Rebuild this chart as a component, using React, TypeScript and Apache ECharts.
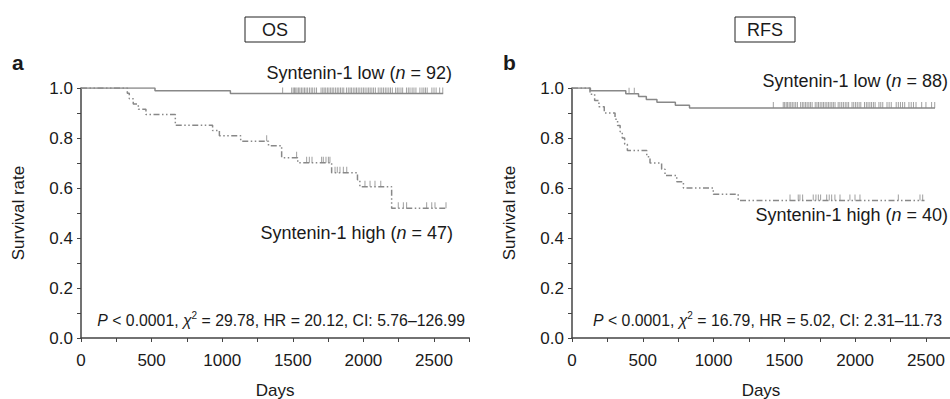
import React, { useEffect, useRef } from "react";
import * as echarts from "echarts";

// ---- axes ----
const xTickLabels = [0, 500, 1000, 1500, 2000, 2500];
const xTickMarks = [0, 250, 500, 750, 1000, 1250, 1500, 1750, 2000, 2250, 2500, 2750];
const yTickLabels = [0, 0.2, 0.4, 0.6, 0.8, 1.0];
const yTickMarks = [0, 0.1, 0.2, 0.3, 0.4, 0.5, 0.6, 0.7, 0.8, 0.9, 1.0];

// ---- OS (panel a) ----
const osLowDays = [0, 524, 1058, 2565];
const osLowSurv = [1, 0.989, 0.978, 0.978];
const osLowCensored = [
  1428, 1492, 1503, 1512, 1521, 1530, 1541, 1550, 1561, 1572, 1583, 1594, 1605, 1618, 1630, 1641, 1655, 1668,
  1700, 1712, 1722, 1733, 1745, 1756, 1768, 1779, 1790, 1803, 1815, 1826, 1838, 1850, 1861,
  1880, 1893, 1905, 1915, 1928, 1940, 1951, 1963, 1975, 1988, 2000, 2012, 2025, 2037, 2048, 2060, 2072, 2085,
  2105, 2118, 2130, 2142, 2155, 2167, 2180, 2192, 2205,
  2228, 2240, 2252, 2266, 2278,
  2305, 2318, 2330, 2345, 2358, 2372,
  2400, 2415, 2428, 2440, 2452,
  2485, 2500, 2515, 2540, 2562,
];
const osHighDays = [0, 328, 342, 370, 406, 460, 668, 932, 980, 1131, 1328, 1421, 1535, 1775, 1958, 1975, 2200, 2590];
const osHighSurv = [1, 0.979, 0.957, 0.936, 0.915, 0.894, 0.851, 0.83, 0.809, 0.787, 0.769, 0.721, 0.701, 0.661, 0.633, 0.605, 0.519, 0.519];
const osHighCensored = [
  1315, 1527, 1598, 1617, 1636, 1704, 1716, 1735, 1752, 1763, 1799, 1815, 1834, 1858, 1882,
  2011, 2047, 2082, 2123, 2247, 2283, 2306, 2448, 2484, 2507, 2585,
];

// ---- RFS (panel b) ----
const rfsLowDays = [0, 130, 380, 470, 525, 600, 730, 830, 2564];
const rfsLowSurv = [1, 0.989, 0.977, 0.966, 0.954, 0.943, 0.931, 0.92, 0.92];
const rfsLowCensored = [
  403, 440, 1422,
  1492, 1502, 1513, 1523, 1534, 1545, 1556, 1568, 1580, 1592,
  1615, 1627, 1638, 1650, 1661, 1673, 1684, 1696,
  1718, 1730, 1741, 1753, 1765, 1776, 1788, 1800, 1811, 1823, 1835, 1846, 1858,
  1880, 1892, 1905, 1917, 1930, 1942, 1954,
  1978, 1990, 2003, 2015, 2028, 2040,
  2066, 2079, 2091, 2104, 2116, 2129, 2141,
  2168, 2181, 2195,
  2225, 2240, 2255,
  2290, 2305, 2320, 2335, 2350,
  2380, 2396, 2412, 2430,
  2470, 2500, 2540, 2562,
];
const rfsHighDays = [0, 127, 160, 190, 228, 304, 322, 340, 355, 372, 391, 528, 551, 633, 657, 740, 787, 998, 1174, 2490];
const rfsHighSurv = [1, 0.975, 0.95, 0.925, 0.9, 0.875, 0.85, 0.825, 0.8, 0.775, 0.75, 0.725, 0.7, 0.675, 0.65, 0.625, 0.6, 0.575, 0.55, 0.55];
const rfsHighCensored = [
  1540, 1598, 1610, 1629, 1704, 1723, 1740, 1756, 1799, 1817, 1834, 1857, 1893, 1963, 1999, 2034, 2305, 2458, 2477,
];

// ---- texts ----
const panelTitles = ["OS", "RFS"];
const panelLetters = ["a", "b"];
const lowLabels = ["Syntenin-1 low ({i|n} = 92)", "Syntenin-1 low ({i|n} = 88)"];
const highLabels = ["Syntenin-1 high ({i|n} = 47)", "Syntenin-1 high ({i|n} = 40)"];
const statLabels = [
  "{i|P} < 0.0001, {i|χ}{sup|2} = 29.78, HR = 20.12, CI: 5.76–126.99",
  "{i|P} < 0.0001, {i|χ}{sup|2} = 16.79, HR = 5.02, CI: 2.31–11.73",
];

const CURVE = "#888888";
const AXIS = "#444444";
const TEXT = "#1a1a1a";
const FONT = "Arial, 'Liberation Sans', Helvetica, sans-serif";
const DASH = [6, 2.5, 1.5, 2.5, 1.5, 2.5];

function levelAt(days: number[], surv: number[], t: number) {
  let v = surv[0];
  for (let i = 0; i < days.length; i++) if (days[i] <= t) v = surv[i];
  return v;
}

function curveSeries(days: number[], surv: number[], censored: number[], idx: number, dashed: boolean) {
  return [
    {
      type: "line",
      xAxisIndex: idx,
      yAxisIndex: idx,
      step: "end",
      showSymbol: false,
      symbol: "none",
      data: days.map((d, i) => [d, surv[i]]),
      lineStyle: { color: CURVE, width: 1.5, type: dashed ? DASH : "solid" },
      silent: true,
    },
    {
      type: "scatter",
      xAxisIndex: idx,
      yAxisIndex: idx,
      symbol: "rect",
      symbolSize: [1, 6],
      symbolOffset: [0, -3],
      itemStyle: { color: CURVE },
      data: censored.map((t) => [t, levelAt(days, surv, t)]),
      silent: true,
    },
  ];
}

function xAxisCfg(idx: number, max: number) {
  return {
    type: "value",
    gridIndex: idx,
    min: 0,
    max,
    axisLine: { show: true, onZero: false, lineStyle: { color: AXIS, width: 1.5 } },
    axisTick: { show: true, customValues: xTickMarks.filter((v) => v <= max), length: 4, lineStyle: { color: AXIS, width: 1 } },
    axisLabel: {
      customValues: xTickLabels,
      fontSize: 17,
      color: TEXT,
      fontFamily: FONT,
      margin: 14,
      formatter: (v: number) => String(Math.round(v)),
    },
    splitLine: { show: false },
    name: "Days",
    nameLocation: "middle",
    nameGap: 44,
    nameTextStyle: { fontSize: 17, color: TEXT, fontFamily: FONT },
  };
}

function yAxisCfg(idx: number) {
  return {
    type: "value",
    gridIndex: idx,
    min: 0,
    max: 1,
    axisLine: { show: true, onZero: false, lineStyle: { color: AXIS, width: 1.5 } },
    axisTick: { show: true, customValues: yTickMarks, length: 4, lineStyle: { color: AXIS, width: 1 } },
    axisLabel: {
      customValues: yTickLabels,
      fontSize: 17,
      color: TEXT,
      fontFamily: FONT,
      margin: 8,
      formatter: (v: number) => v.toFixed(1),
    },
    splitLine: { show: false },
    name: "Survival rate",
    nameLocation: "middle",
    nameGap: 54,
    nameTextStyle: { fontSize: 17, color: TEXT, fontFamily: FONT },
  };
}

function txt(text: string, x: number, y: number, align: string, size: number, extra: any = {}) {
  return {
    type: "text",
    x,
    y,
    style: {
      text,
      fill: TEXT,
      fontSize: size,
      fontFamily: FONT,
      fontWeight: extra.bold ? "bold" : "normal",
      align,
      verticalAlign: "middle",
      rich: {
        i: { fontStyle: "italic", fontSize: size, fontFamily: FONT, fill: TEXT },
        sup: { fontSize: Math.round(size * 0.62), fontFamily: FONT, fill: TEXT, padding: [0, 0, Math.round(size * 0.6), 0] },
      },
    },
    silent: true,
  };
}

export default function App() {
  const ref = useRef<HTMLDivElement>(null);

  useEffect(() => {
    document.body.style.margin = "0";
    if (!ref.current) return;
    const chart = echarts.init(ref.current, undefined, { renderer: "svg" });

    const boxes = [
      { x: 245, y: 17, w: 60, h: 25 },
      { x: 735, y: 17, w: 60, h: 25 },
    ];

    const graphic: any[] = [];
    boxes.forEach((b, i) => {
      graphic.push({
        type: "rect",
        shape: { x: b.x, y: b.y, width: b.w, height: b.h },
        style: { fill: "none", stroke: "#222", lineWidth: 1 },
        silent: true,
      });
      graphic.push(txt(panelTitles[i], b.x + b.w / 2, b.y + b.h / 2 + 0.5, "center", 18));
    });
    graphic.push(txt(panelLetters[0], 12, 62, "left", 21, { bold: true }));
    graphic.push(txt(panelLetters[1], 503, 62, "left", 21, { bold: true }));
    graphic.push(txt(lowLabels[0], 452, 73, "right", 18));
    graphic.push(txt(lowLabels[1], 948, 81, "right", 18));
    graphic.push(txt(highLabels[0], 453, 233, "right", 18));
    graphic.push(txt(highLabels[1], 948, 215, "right", 18));
    graphic.push(txt(statLabels[0], 465, 320, "right", 15.8));
    graphic.push(txt(statLabels[1], 942, 320, "right", 15.8));

    chart.setOption({
      animation: false,
      backgroundColor: "#ffffff",
      grid: [
        { left: 81, top: 88, width: 388.3, height: 250, outerBoundsMode: "none", containLabel: false },
        { left: 572, top: 88, width: 378, height: 250, outerBoundsMode: "none", containLabel: false },
      ],
      xAxis: [xAxisCfg(0, 2750), xAxisCfg(1, 2670)],
      yAxis: [yAxisCfg(0), yAxisCfg(1)],
      series: [
        ...curveSeries(osLowDays, osLowSurv, osLowCensored, 0, false),
        ...curveSeries(osHighDays, osHighSurv, osHighCensored, 0, true),
        ...curveSeries(rfsLowDays, rfsLowSurv, rfsLowCensored, 1, false),
        ...curveSeries(rfsHighDays, rfsHighSurv, rfsHighCensored, 1, true),
      ],
      graphic,
    });

    return () => chart.dispose();
  }, []);

  return <div ref={ref} style={{ width: 950, height: 399 }} />;
}
